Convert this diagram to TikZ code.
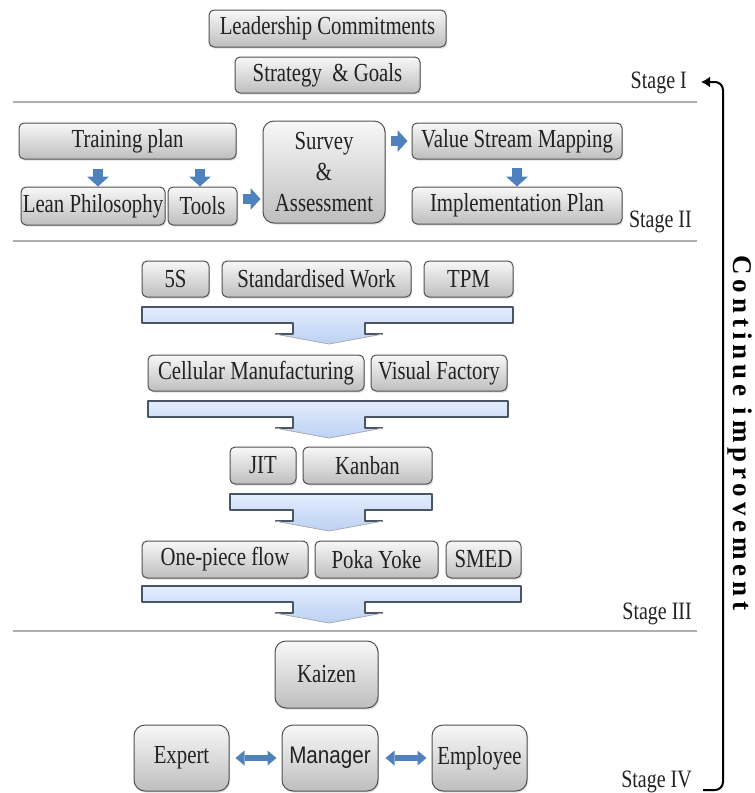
\documentclass[tikz,border=0pt]{standalone}
\usepackage{fontspec}
\setmainfont[FakeStretch=0.8]{Liberation Serif}
\newfontfamily\mgrfont[FakeStretch=0.86]{Liberation Sans}
\newfontfamily\ctfont[LetterSpace=18]{Liberation Serif}
\usetikzlibrary{arrows.meta,shadows}

\definecolor{boxline}{HTML}{505050}
\definecolor{boxtop}{HTML}{F8F8F8}
\definecolor{boxbot}{HTML}{BEBEBE}
\definecolor{arrowblue}{HTML}{4F81BD}
\definecolor{flowtop}{HTML}{E2ECFD}
\definecolor{flowbot}{HTML}{BCD1F3}
\definecolor{flowline}{HTML}{4A5565}
\definecolor{sepgray}{HTML}{AEAEAE}
\definecolor{ink}{HTML}{222222}

\tikzset{
  item/.style={draw=boxline, line width=1pt, rounded corners=5pt,
    top color=boxtop, bottom color=boxbot,
    drop shadow={opacity=0.25, shadow xshift=1.2pt, shadow yshift=-1.6pt},
    inner sep=0pt, text=ink, font=\fontsize{26}{30}\selectfont},
  tall/.style={item, rounded corners=11pt},
  sep/.style={draw=sepgray, line width=1.4pt},
  stagelbl/.style={anchor=base east, inner sep=0pt, text=ink,
    font=\fontsize{25}{28}\selectfont},
  dnarrow/.style={draw=arrowblue, line width=10pt,
    -{Triangle[length=10pt,width=22pt,line width=0pt]}},
  twoway/.style={draw=arrowblue, line width=6pt,
    {Triangle[length=9pt,width=15pt,line width=0pt]}-{Triangle[length=9pt,width=15pt,line width=0pt]}},
  flowfill/.style={top color=flowtop, bottom color=flowbot},
  flowedge/.style={draw=flowline, line width=1.3pt, line join=round},
  brk/.style={draw=black, line width=2pt, rounded corners=8pt,
    -{Latex[length=9pt,width=11pt]}},
}

% wide blue band under a row, folding into a down arrow at x = 329
\newcommand\flowbar[3]{%
  \fill[flowfill] (#1,#3) -- (#2,#3) -- (#2,#3+16) -- (365,#3+16) -- (365,#3+27)
    -- (383,#3+27) -- (329,#3+37) -- (275,#3+27) -- (293,#3+27) -- (293,#3+16)
    -- (#1,#3+16) -- cycle;
  \draw[flowedge] (275,#3+27) -- (293,#3+27) -- (293,#3+16) -- (#1,#3+16)
    -- (#1,#3) -- (#2,#3) -- (#2,#3+16) -- (365,#3+16) -- (365,#3+27) -- (383,#3+27);
  \draw[draw=flowline!45, line width=0.8pt] (275,#3+27) -- (329,#3+37) -- (383,#3+27);
}

\begin{document}
\begin{tikzpicture}[x=1pt,y=-1pt]
\useasboundingbox (0,0) rectangle (755,793);

% ---------- Stage I ----------
\node[item, minimum width=237pt, minimum height=37pt] (lead) at (327.5,28.5) {Leadership Commitments};
\node[item, minimum width=185pt, minimum height=36pt] (strat) at (327.5,75) {Strategy\ \ \&\ Goals};
\node[stagelbl] (st1) at (687,88) {Stage I};
\draw[sep] (13,102) -- (697,102);

% ---------- Stage II ----------
\node[item, minimum width=217pt, minimum height=36pt] (train) at (127.5,141) {Training plan};
\node[item, minimum width=144pt, minimum height=38pt] (lean) at (93,206) {Lean Philosophy};
\node[item, minimum width=69pt, minimum height=38pt] (tools) at (202.5,206) {Tools};
\node[tall, minimum width=122pt, minimum height=102pt, align=center,
      font=\fontsize{26}{31}\selectfont] (survey) at (324,172) {Survey\\\&\\Assessment};
\node[item, minimum width=210pt, minimum height=36pt] (vsm) at (517,141) {Value Stream Mapping};
\node[item, minimum width=210pt, minimum height=37pt] (impl) at (517,205.5) {Implementation Plan};
\node[stagelbl] (st2) at (692,227) {Stage II};

\draw[dnarrow] ([xshift=5pt,yshift=-9pt]train.south -| lean.north) -- ([xshift=5pt]lean.north);
\draw[dnarrow] ([xshift=-2.5pt,yshift=-9pt]train.south -| tools.north) -- ([xshift=-2.5pt]tools.north);
\draw[dnarrow] ([xshift=5pt,yshift=7pt]tools.east) -- ([xshift=-2pt,yshift=7pt]survey.west |- tools.east);
\draw[dnarrow] ([xshift=5pt]survey.east |- vsm.west) -- ([xshift=-4pt]vsm.west);
\draw[dnarrow] ([yshift=-8pt]vsm.south) -- (impl.north);
\draw[sep] (13,241) -- (697,241);

% ---------- Stage III ----------
\node[item, minimum width=67pt, minimum height=36pt] (s5) at (175.5,279) {5S};
\node[item, minimum width=189pt, minimum height=36pt] (stdw) at (316.5,279) {Standardised Work};
\node[item, minimum width=89pt, minimum height=36pt] (tpm) at (468.5,279) {TPM};
\flowbar{142}{513}{307}

\node[item, minimum width=216pt, minimum height=36pt] (cell) at (256,373) {Cellular Manufacturing};
\node[item, minimum width=136pt, minimum height=36pt] (vis) at (439,373) {Visual Factory};
\flowbar{148}{508}{401}

\node[item, minimum width=66pt, minimum height=37pt] (jit) at (263,465.5) {JIT};
\node[item, minimum width=129pt, minimum height=37pt] (kan) at (367.5,465.5) {Kanban};
\flowbar{230}{432}{494}

\node[item, minimum width=166pt, minimum height=37pt] (opf) at (225,559.5) {One-piece flow};
\node[item, minimum width=123pt, minimum height=37pt] (poka) at (376.5,559.5) {Poka Yoke};
\node[item, minimum width=75pt, minimum height=37pt] (smed) at (483.5,559.5) {SMED};
\flowbar{142}{521}{586}

\node[stagelbl] (st3) at (692,619) {Stage III};
\draw[sep] (13,631) -- (697,631);

% ---------- Stage IV ----------
\node[tall, minimum width=103pt, minimum height=67pt] (kaizen) at (326.5,674.5) {Kaizen};
\node[tall, minimum width=95pt, minimum height=66pt] (expert) at (181.5,758) {Expert};
\node[tall, minimum width=96pt, minimum height=66pt,
      font=\mgrfont\fontsize{24}{28}\selectfont] (manager) at (330,758) {Manager};
\node[tall, minimum width=95pt, minimum height=66pt] (employee) at (479.5,758) {Employee};
\draw[twoway] ([xshift=6pt]expert.east) -- ([xshift=-5pt]manager.west);
\draw[twoway] ([xshift=7pt]manager.east) -- ([xshift=-5pt]employee.west);
\node[stagelbl] (st4) at (692,787) {Stage IV};

% ---------- feedback bracket ----------
\coordinate (brkbot) at (703,790);
\coordinate (brktop) at (701,82);
\draw[brk] (brkbot) -- ++(20,0) |- (brktop);
\node[rotate=-90, inner sep=0pt, text=black,
      font=\ctfont\fontsize{27}{30}\selectfont\bfseries] (ci) at (740,433) {Continue improvement};
\end{tikzpicture}
\end{document}
